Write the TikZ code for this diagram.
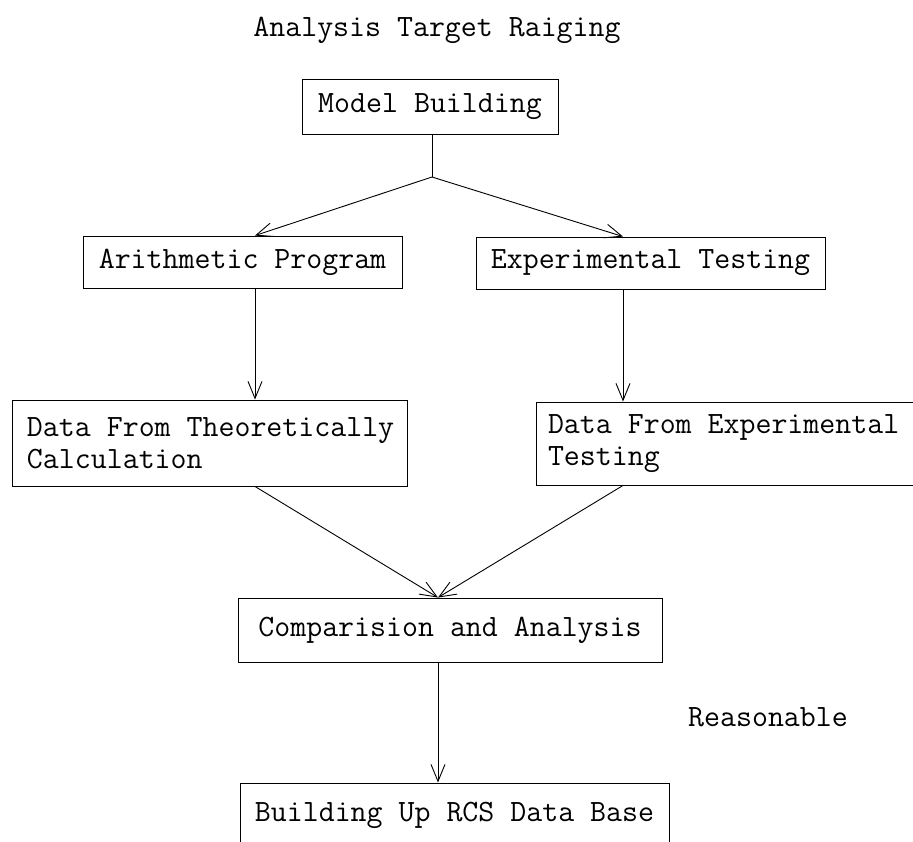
\documentclass[tikz,border=0pt]{standalone}
\usepackage{tikz}
\usetikzlibrary{arrows.meta}
\newcommand{\fixedspaces}{\spaceskip=\fontdimen2\font\relax}
\begin{document}
\begin{tikzpicture}[x=1pt, y=-1pt, line width=0.9pt, >={Straight Barb[length=17pt,width=14pt]}]
	\tikzstyle{txt} = [font={\ttfamily\fontsize{31}{32}\selectfont\fixedspaces}]
	\tikzstyle{block} = [txt, draw, inner xsep=0pt, inner ysep=0pt]
	\useasboundingbox (0,0) rectangle (913,841);
	\node[txt, anchor=base] (title) at (437,36) {Analysis Target Raiging};
	\node[block, minimum width=256pt, minimum height=55pt] (model) at (430,106.5) {Model Building};
	\node[block, minimum width=319pt, minimum height=52pt] (arith) at (242.5,262) {Arithmetic Program};
	\node[block, minimum width=349pt, minimum height=52pt] (exper) at (650.5,263) {Experimental Testing};
	\node[block, minimum width=395pt, minimum height=86pt, text width=365pt, align=flush left] (theo) at (209.5,443) {Data~From~Theoretically\\Calculation};
	\node[block, minimum width=384pt, minimum height=83pt, text width=360pt, align=flush left] (expdata) at (728,443.5) {Data~From~Experimental\\Testing};
	\node[block, minimum width=424pt, minimum height=64pt] (comp) at (450,630) {Comparision and Analysis};
	\node[block, minimum width=429pt, minimum height=64pt] (rcs) at (454.5,815) {Building Up RCS Data Base};
	\node[txt, anchor=base] (reason) at (768,726) {Reasonable};
	\coordinate (split) at (432,177);
	\coordinate (lcol) at (255,0);
	\coordinate (rcol) at (623,0);
	\coordinate (mcol) at (438,0);
	\draw (model.south -| split) -- (split);
	\draw[->] (split) -- (arith.north -| lcol);
	\draw[->] (split) -- (exper.north -| rcol);
	\draw[->] (arith.south -| lcol) -- (theo.north -| lcol);
	\draw[->] (exper.south -| rcol) -- (expdata.north -| rcol);
	\draw[->] (theo.south -| lcol) -- (comp.north -| mcol);
	\draw[->] (expdata.south -| rcol) -- (comp.north -| mcol);
	\draw[->] (comp.south -| mcol) -- (rcs.north -| mcol);
\end{tikzpicture}
\end{document}
